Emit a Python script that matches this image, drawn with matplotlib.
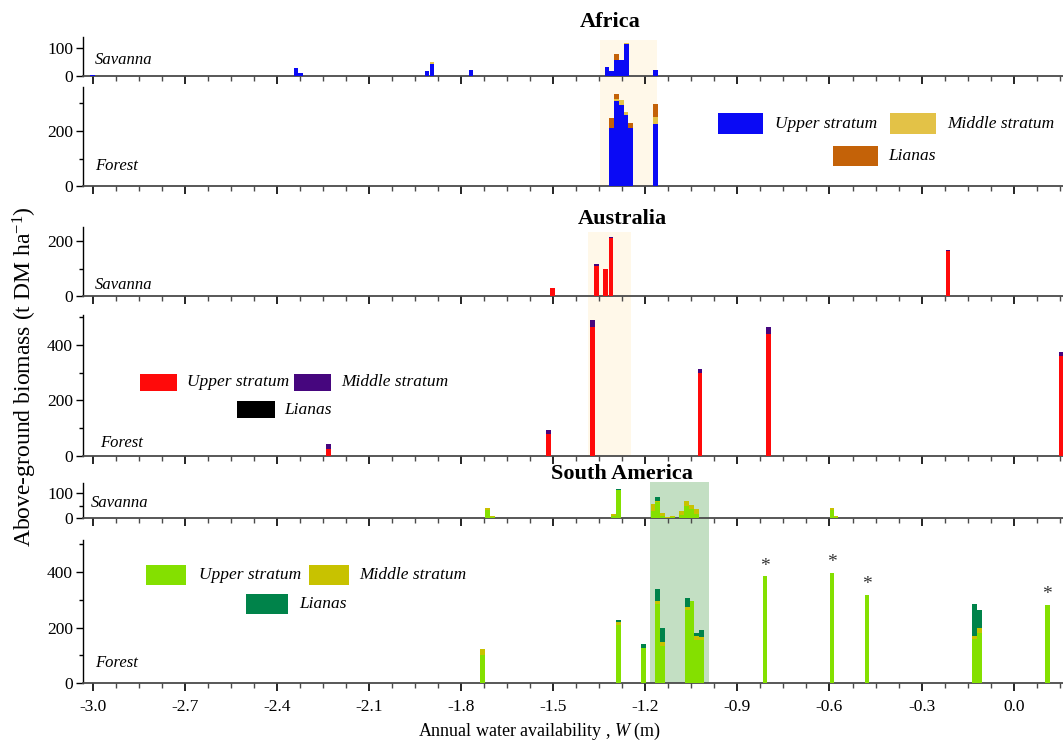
import numpy as np
import matplotlib
matplotlib.use('Agg')
import matplotlib.pyplot as plt
from matplotlib.patches import Rectangle
from matplotlib.ticker import MultipleLocator, NullFormatter
import matplotlib.transforms as mtransforms

plt.rcParams['font.family'] = ['Liberation Serif', 'DejaVu Serif']
plt.rcParams['mathtext.fontset'] = 'custom'
plt.rcParams['mathtext.rm'] = 'Liberation Serif'
plt.rcParams['mathtext.it'] = 'Liberation Serif:italic'

# ---------------- data ----------------
# Africa
af_sav_x = [-3.000, -2.338, -2.323, -1.911, -1.895, -1.768, -1.325, -1.309, -1.293, -1.277, -1.262, -1.166]
af_sav_upper = [3, 31, 13, 19, 43, 21, 33, 17, 58, 58, 115, 22]
af_sav_middle = [0, 0, 0, 0, 7, 0, 0, 0, 0, 0, 2, 0]
af_sav_lianas = [0, 0, 0, 0, 0, 0, 0, 0, 20, 0, 0, 0]

af_for_x = [-1.309, -1.294, -1.278, -1.263, -1.247, -1.168]
af_for_upper = [209, 308, 295, 256, 209, 227]
af_for_middle = [0, 9, 16, 11, 0, 24]
af_for_lianas = [39, 15, 0, 3, 21, 48]

# Australia
au_sav_x = [-1.503, -1.360, -1.329, -1.312, -0.214]
au_sav_upper = [29, 109, 98, 210, 164]
au_sav_middle = [0, 6, 0, 3, 3]
au_sav_lianas = [0, 0, 0, 0, 0]

au_for_x = [-2.232, -1.514, -1.371, -1.022, -0.800, 0.154]
au_for_upper = [24, 79, 463, 300, 440, 361]
au_for_middle = [19, 13, 28, 14, 26, 14]
au_for_lianas = [0, 0, 0, 0, 0, 0]

# South America
sa_sav_x = [-1.714, -1.699, -1.304, -1.288, -1.175, -1.160, -1.143, -1.127, -1.112,
            -1.081, -1.065, -1.049, -1.033, -0.592, -0.579]
sa_sav_upper = [34, 4, 10, 112, 28, 63, 10, 2, 3, 14, 47, 38, 15, 33, 5]
sa_sav_middle = [5, 3, 6, 0, 30, 7, 10, 1, 5, 16, 21, 16, 21, 7, 3]
sa_sav_lianas = [0, 0, 0, 4, 0, 13, 0, 0, 0, 0, 0, 0, 0, 0, 0]

sa_for_x = [-1.729, -1.286, -1.207, -1.159, -1.143, -1.063, -1.048, -1.033, -1.017,
            -0.810, -0.592, -0.478, -0.128, -0.112, 0.109]
sa_for_upper = [101, 208, 127, 286, 134, 262, 295, 157, 154, 384, 398, 319, 161, 181, 282]
sa_for_middle = [24, 12, 0, 10, 15, 14, 0, 12, 14, 0, 0, 0, 10, 18, 0]
sa_for_lianas = [0, 9, 13, 43, 51, 29, 0, 11, 23, 0, 0, 0, 113, 65, 0]
sa_for_star = [0, 0, 0, 0, 0, 0, 0, 0, 0, 1, 1, 1, 0, 0, 1]

# shaded ranges of W
af_range = (-1.349, -1.161)
au_range = (-1.386, -1.248)
sa_range = (-1.185, -0.993)

layer_names = ['Upper stratum', 'Middle stratum', 'Lianas']
af_colors = ['#0A0AF5', '#E3C247', '#C46208']
au_colors = ['#FF0A0A', '#46067E', '#000000']
sa_colors = ['#84E000', '#C8C200', '#00834A']

x_ticks = [-3.0, -2.7, -2.4, -2.1, -1.8, -1.5, -1.2, -0.9, -0.6, -0.3, 0.0]

# ---------------- figure ----------------
W, H = 1063, 743
fig = plt.figure(figsize=(W / 100, H / 100), dpi=100)
LEFT = 82.7
XLIM = (-3.0326, 0.1606)
BW = 0.0157
AXCOL = '#4a4a4a'


def make_ax(top, bot, ylim, major, minor):
    ax = fig.add_axes([LEFT / W, 1 - bot / H, 1 - LEFT / W, (bot - top) / H])
    ax.set_facecolor('none')
    ax.set_xlim(*XLIM)
    ax.set_ylim(*ylim)
    for s in ['top', 'right']:
        ax.spines[s].set_visible(False)
    ax.spines['left'].set_color('black')
    ax.spines['left'].set_linewidth(1.0)
    ax.spines['bottom'].set_color(AXCOL)
    ax.spines['bottom'].set_linewidth(1.3)
    ax.set_xticks(x_ticks)
    ax.xaxis.set_minor_locator(MultipleLocator(0.075))
    ax.yaxis.set_major_locator(MultipleLocator(major))
    ax.yaxis.set_minor_locator(MultipleLocator(minor))
    ax.tick_params(axis='x', which='major', direction='out', length=6, width=1.2, color='black')
    ax.tick_params(axis='x', which='minor', direction='out', length=3.5, width=1.0, color=AXCOL)
    ax.tick_params(axis='y', which='major', direction='out', length=5, width=1.0, labelsize=12.5, pad=2)
    ax.tick_params(axis='y', which='minor', direction='out', length=3, width=1.0)
    ax.tick_params(axis='x', labelbottom=False)
    return ax


def stack(ax, x, layers, colors):
    x = np.asarray(x, float)
    bottom = np.zeros(len(x))
    for vals, c in zip(layers, colors):
        vals = np.asarray(vals, float)
        ax.bar(x, vals, width=BW, bottom=bottom, color=c, linewidth=0, zorder=3)
        bottom += vals
    return bottom


def shade(ax, xr, ytop, ybot, color):
    tr = mtransforms.blended_transform_factory(ax.transData, fig.transFigure)
    r = Rectangle((xr[0], 1 - ybot / H), xr[1] - xr[0], (ybot - ytop) / H,
                  transform=tr, facecolor=color, edgecolor='none', zorder=-5)
    fig.add_artist(r)


def legend(items, colors):
    for (px, py, pw, ph, tx, label), c in zip(items, colors):
        fig.add_artist(Rectangle((px / W, 1 - (py + ph) / H), pw / W, ph / H,
                                 transform=fig.transFigure, facecolor=c, edgecolor='none'))
        fig.text(tx / W, 1 - (py + ph / 2) / H, label, fontsize=12.5, style='italic',
                 ha='left', va='center')


# Africa
ax1 = make_ax(37, 76.3, (0, 139), 100, 100)
stack(ax1, af_sav_x, [af_sav_upper, af_sav_middle, af_sav_lianas], af_colors)
ax2 = make_ax(87, 186.3, (0, 359), 200, 100)
stack(ax2, af_for_x, [af_for_upper, af_for_middle, af_for_lianas], af_colors)
shade(ax1, af_range, 40, 186.3, '#FFF8E9')

# Australia
ax3 = make_ax(227, 296, (0, 251), 200, 100)
stack(ax3, au_sav_x, [au_sav_upper, au_sav_middle, au_sav_lianas], au_colors)
ax4 = make_ax(315, 455.7, (0, 508), 200, 100)
stack(ax4, au_for_x, [au_for_upper, au_for_middle, au_for_lianas], au_colors)
shade(ax3, au_range, 231.7, 455.7, '#FFF8E9')

# South America
ax5 = make_ax(483, 518, (0, 140), 100, 50)
stack(ax5, sa_sav_x, [sa_sav_upper, sa_sav_middle, sa_sav_lianas], sa_colors)
ax6 = make_ax(540, 683.3, (0, 515), 200, 100)
tot = stack(ax6, sa_for_x, [sa_for_upper, sa_for_middle, sa_for_lianas], sa_colors)
for xv, tv, st in zip(sa_for_x, tot, sa_for_star):
    if st:
        ax6.annotate('*', (xv, tv), xytext=(0, 1), textcoords='offset points',
                     ha='center', va='bottom', fontsize=14, color='#333333')
shade(ax5, sa_range, 482.3, 683.3, '#C3DFC3')

ax6.tick_params(axis='x', labelbottom=True, labelsize=12.5, pad=5)
ax6.set_xticklabels(['%.1f' % t for t in x_ticks])

# panel labels
for txt, px, py in [('Savanna', 95, 60), ('Forest', 95, 166), ('Savanna', 95, 285),
                    ('Forest', 100, 443), ('Savanna', 91, 503), ('Forest', 95, 663)]:
    fig.text(px / W, 1 - py / H, txt, fontsize=12, style='italic', ha='left', va='center')

# titles
for txt, px, py in [('Africa', 610, 22), ('Australia', 622, 219), ('South America', 622, 474)]:
    fig.text(px / W, 1 - py / H, txt, fontsize=16, fontweight='bold', ha='center', va='center')

# legends
legend([(718, 113, 45, 21, 775, layer_names[0]),
        (890, 113, 46, 21, 947, layer_names[1]),
        (833, 146, 45, 20, 888, layer_names[2])], af_colors)
legend([(140, 374, 37, 17, 187, layer_names[0]),
        (294, 374, 37, 17, 341, layer_names[1]),
        (237, 401, 38, 17, 284, layer_names[2])], au_colors)
legend([(146, 565, 40, 20, 199, layer_names[0]),
        (309, 565, 40, 20, 359, layer_names[1]),
        (246, 594, 42, 20, 299, layer_names[2])], sa_colors)

# axis labels
fig.text(25 / W, 1 - 377 / H, 'Above-ground biomass (t DM ha$^{-1}$)', rotation=90,
         fontsize=17, ha='center', va='center')
fig.text(540 / W, 1 - 731 / H, 'Annual water availability , $\\mathit{W}$ (m)',
         fontsize=13, ha='center', va='center')

fig.savefig('out.png', dpi=100)
